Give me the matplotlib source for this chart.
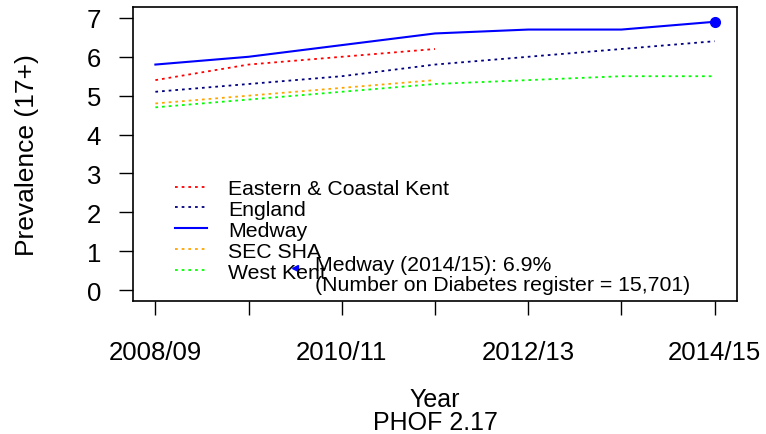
import matplotlib
matplotlib.use("Agg")
import matplotlib.pyplot as plt
import numpy as np

plt.rcParams['font.family'] = ['Liberation Sans', 'DejaVu Sans']

years = ['2008/09', '2009/10', '2010/11', '2011/12', '2012/13', '2013/14', '2014/15']

eastern_coastal_kent = [5.4, 5.8, 6.0, 6.2]
england = [5.1, 5.3, 5.5, 5.8, 6.0, 6.2, 6.4]
medway = [5.8, 6.0, 6.3, 6.6, 6.7, 6.7, 6.9]
sec_sha = [4.8, 5.0, 5.2, 5.4]
west_kent = [4.7, 4.9, 5.1, 5.3, 5.4, 5.5, 5.5]

medway_latest = 6.9
register_count = "15,701"

fig = plt.figure(figsize=(7.66, 4.35), dpi=100)
ax = fig.add_axes([133 / 766, 133 / 435, 604 / 766, 294 / 435])

x = np.arange(len(years))
dots = (0, (1.5, 2.2))
ax.plot(x[:len(eastern_coastal_kent)], eastern_coastal_kent, color='#FF0000',
        lw=1.3, linestyle=dots, label='Eastern & Coastal Kent')
ax.plot(x, england, color='#000080', lw=1.3, linestyle=dots, label='England')
ax.plot(x, medway, color='#0000FF', lw=1.5, linestyle='-', label='Medway')
ax.plot(x[:len(sec_sha)], sec_sha, color='#FFA500', lw=1.3, linestyle=dots,
        label='SEC SHA')
ax.plot(x, west_kent, color='#00FF00', lw=1.3, linestyle=dots, label='West Kent')

# highlight latest Medway value
ax.plot([x[-1]], [medway_latest], 'o', color='#0000FF', ms=7)
ax.plot([1.5], [0.56], marker='<', color='#0000FF', ms=5, lw=0)
ax.text(1.71, 0.40,
        f"Medway ({years[-1]}): {medway_latest}%\n(Number on Diabetes register = {register_count})",
        fontsize=15.3, ha='left', va='center', linespacing=1.1)

ax.set_xlim(-0.24, 6.24)
ax.set_ylim(-0.28, 7.28)
ax.set_xticks(x)
ax.set_xticklabels([y if i % 2 == 0 else '' for i, y in enumerate(years)])
ax.set_yticks(range(0, 8))
ax.tick_params(axis='x', length=10, width=1, labelsize=18.5, pad=18)
ax.tick_params(axis='y', length=10, width=1, labelsize=18.5, pad=13)
for s in ax.spines.values():
    s.set_linewidth(1.2)

ax.set_ylabel('Prevalence (17+)', fontsize=19, va='center')
ax.yaxis.set_label_coords(-0.1755, 0.5)
ax.set_xlabel('Year\nPHOF 2.17', fontsize=18, va='center', linespacing=0.95)
ax.xaxis.set_label_coords(0.5, -0.372)

ax.legend(loc='upper left', bbox_to_anchor=(0.0695, 0.415), frameon=False,
          fontsize=15.3, handlelength=1.5, handletextpad=1.0, labelspacing=0.09,
          borderpad=0, borderaxespad=0)

fig.savefig('out.png', dpi=100)
